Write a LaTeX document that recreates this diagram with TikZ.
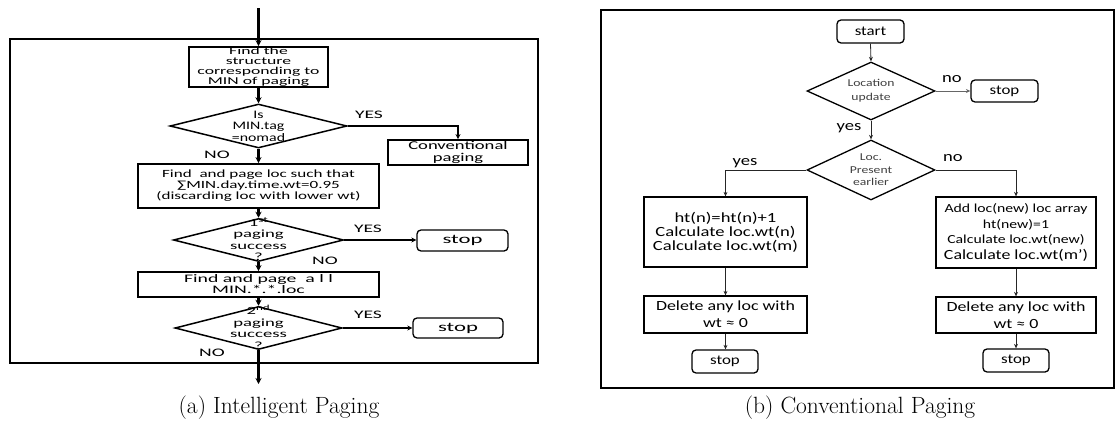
\documentclass[tikz,border=0pt]{standalone}
\usepackage{fontspec}
\usetikzlibrary{shapes.geometric,arrows.meta}
\newfontfamily\carl{Carlito}
% size, baseline skip, horizontal stretch
\newcommand\tf[3]{\carl\fontsize{#1}{#2}\selectfont\addfontfeatures{FakeStretch=#3}}

\begin{document}
\begin{tikzpicture}[x=1pt,y=-1pt,
  lframe/.style={draw, line width=2pt},
  rframe/.style={draw, line width=1.5pt},
  lbox/.style={draw, line width=1.8pt, inner sep=0pt, align=center},
  ldia/.style={draw, diamond, line width=1.5pt, inner sep=0pt},
  lstop/.style={draw, rounded corners=4pt, line width=1.3pt, inner sep=0pt, font=\tf{13}{14}{1.75}},
  ltxt/.style={inner sep=0pt, align=center},
  lans/.style={inner sep=0pt, font=\tf{11.5}{12}{1.7}},
  mainarr/.style={line width=2.3pt, -{Stealth[length=6pt,width=6pt]}},
  sidearr/.style={line width=1.1pt, -{Stealth[length=5pt,width=5pt]}},
  rbox/.style={draw, line width=1.3pt, inner sep=0pt, align=center},
  rdia/.style={draw, diamond, line width=1.3pt, inner sep=0pt},
  rterm/.style={draw, rounded corners=4pt, line width=1.3pt, inner sep=0pt, font=\tf{13.5}{14}{1.25}},
  rtxt/.style={inner sep=0pt, align=center, text=black!75},
  rans/.style={inner sep=0pt, font=\tf{14.5}{15}{1.28}},
  rarr/.style={line width=0.8pt, draw=black!85, -{Stealth[length=4.5pt,width=4pt]}},
  captxt/.style={inner sep=0pt, anchor=base, font=\fontsize{23.5}{27}\selectfont}
]
\useasboundingbox (0,0) rectangle (1117,423);

% ---------------- (a) Intelligent Paging ----------------
\draw[lframe] (10,39) rectangle (538,363);
\coordinate (ain) at (258.5,8);
\coordinate (aout) at (258.5,384);

\node[lbox, minimum width=139pt, minimum height=40pt, font=\tf{10.5}{10}{1.68}]
  (b1) at (258.5,67) {Find the\\structure\\corresponding to\\MIN of paging};
\node[ldia, minimum width=177pt, minimum height=44pt] (d1) at (258.5,126) {};
\node[ltxt, font=\tf{11.5}{11.5}{1.38}] (d1t) at (d1.center) {Is\\MIN.tag\\=nomad};
\node[lbox, minimum width=140pt, minimum height=25pt, font=\tf{12}{11.5}{1.55}]
  (conv) at (458,152.5) {Conventional\\paging};
\node[lbox, minimum width=241pt, minimum height=44pt, font=\tf{11}{11}{1.55}]
  (b2) at (258.5,186) {Find~~and page loc such that\\∑MIN.day.time.wt=0.95\\(discarding loc with lower wt)};
\node[ldia, minimum width=170pt, minimum height=43pt] (d2) at (258.5,240) {};
\node[ltxt, font=\tf{11}{11.5}{1.7}] (d2t) at (258.5,239) {1\textsuperscript{st}\\paging\\success\\?};
\node[lstop, minimum width=91pt, minimum height=21pt] (s1) at (462.5,240.5) {stop};
\node[lbox, minimum width=241pt, minimum height=25pt, font=\tf{11.5}{11}{1.72}]
  (b3) at (258.5,284.5) {Find and page~~a l l\\MIN.*.*.loc};
\node[ldia, minimum width=167pt, minimum height=43pt] (d3) at (258.5,328) {};
\node[ltxt, font=\tf{11}{11.5}{1.7}] (d3t) at (258.5,327.5) {2\textsuperscript{nd}\\paging\\success\\?};
\node[lstop, minimum width=90pt, minimum height=20pt] (s2) at (458,328) {stop};

\node[lans] (y1) at (369,115) {YES};
\node[lans] (n1) at (217,155) {NO};
\node[lans] (y2) at (368,229) {YES};
\node[lans] (n2) at (325,261) {NO};
\node[lans] (y3) at (368,315) {YES};
\node[lans] (n3) at (212,353) {NO};

\draw[mainarr] (ain) -- (b1.north);
\draw[mainarr] (b1.south) -- (d1.north);
\draw[mainarr] (d1.south) -- (b2.north);
\draw[mainarr] (b2.south) -- (d2.north);
\draw[mainarr] (d2.south) -- (b3.north);
\draw[mainarr] (b3.south) -- (d3.north);
\draw[mainarr] (d3.south) -- (aout);
\draw[sidearr] (d1.east) -| (conv.north);
\draw[sidearr] (d2.east) -- (d2.east -| s1.west);
\draw[sidearr] (d3.east) -- (d3.east -| s2.west);

\node[captxt] (capa) at (279,413) {(a) Intelligent Paging};

% ---------------- (b) Conventional Paging ----------------
\draw[rframe] (601,10) rectangle (1114,388);

\node[rterm, minimum width=67pt, minimum height=23pt] (start) at (870.5,31.5) {start};
\node[rdia, minimum width=128pt, minimum height=58pt] (da) at (871,91) {};
\node[rtxt, font=\tf{10.5}{14}{1.3}] (dat) at (da.center) {Location\\update};
\node[rterm, minimum width=67pt, minimum height=22pt] (sa) at (1004.5,91) {stop};
\node[rdia, minimum width=128pt, minimum height=60pt] (db) at (871,170) {};
\node[rtxt, font=\tf{10.5}{12.5}{1.3}] (dbt) at (db.center) {Loc.\\Present\\earlier};

\node[rbox, minimum width=163pt, minimum height=70pt, font=\tf{14}{14}{1.33}]
  (l1) at (725.5,232) {ht(n)=ht(n)+1\\Calculate loc.wt(n)\\Calculate loc.wt(m)};
\node[rbox, minimum width=160pt, minimum height=71pt, font=\tf{12.3}{15.5}{1.28}]
  (r1) at (1016,232.5) {Add loc(new) loc array\\ht(new)=1\\Calculate loc.wt(new)\\{\tf{14}{15.5}{1.28}Calculate loc.wt(m’)}};
\node[rbox, minimum width=163pt, minimum height=37pt, font=\tf{14}{17}{1.28}]
  (l2) at (725.5,314.5) {Delete any loc with\\wt ≈ 0};
\node[rbox, minimum width=160pt, minimum height=36pt, font=\tf{14}{17}{1.28}]
  (r2) at (1016,315) {Delete any loc with\\wt ≈ 0};
\node[rterm, minimum width=66pt, minimum height=23pt] (sl) at (725,361.5) {stop};
\node[rterm, minimum width=66pt, minimum height=23pt] (sr) at (1016,360.5) {stop};

\node[rans] (na) at (952,79) {no};
\node[rans] (ya) at (849,128) {yes};
\node[rans] (nb) at (953,158) {no};
\node[rans] (yb) at (745,163) {yes};

\draw[rarr] (start.south) -- (da.north);
\draw[rarr, draw=black!60] (da.east) -- (sa.west);
\draw[rarr] (da.south) -- (db.north);
\draw[rarr] (db.west) -| (l1.north);
\draw[rarr] (db.east) -| (r1.north);
\draw[rarr] (l1.south) -- (l2.north);
\draw[rarr] (r1.south) -- (r2.north);
\draw[rarr] (l2.south) -- (l2.south |- sl.north);
\draw[rarr] (r2.south) -- (sr.north);

\node[captxt] (capb) at (860,413) {(b) Conventional Paging};
\end{tikzpicture}
\end{document}
